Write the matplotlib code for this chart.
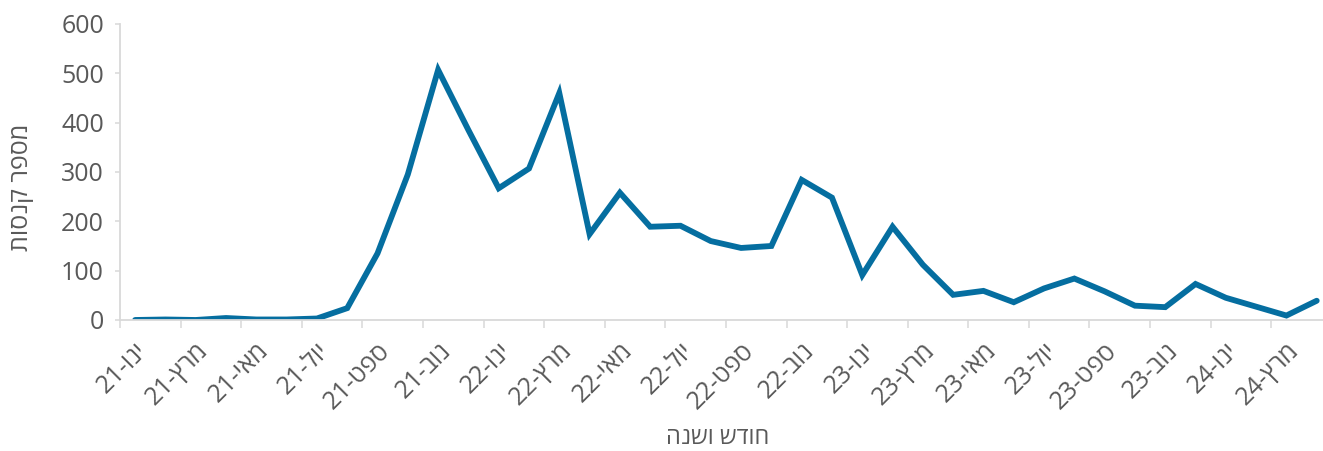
import matplotlib.pyplot as plt
import numpy as np

# חודשים בעברית (סדר לוגי) ושנים
months = ["ינו", "פבר", "מרץ", "אפר", "מאי", "יונ", "יול", "אוג", "ספט", "אוק", "נוב", "דצמ"]
years = ["21", "22", "23", "24"]

# מספר קנסות לחודש, ינואר 2021 עד אפריל 2024
fines = [0, 1, 0, 4, 1, 1, 3, 24, 135, 295,
         507, 385, 267, 307, 460, 174, 258, 189, 191, 160,
         146, 150, 284, 248, 91, 189, 112, 51, 59, 36,
         64, 84, 58, 29, 26, 73, 45, 27, 9, 39]

y_ticks = [0, 100, 200, 300, 400, 500, 600]
y_title = "מספר קנסות"
x_title = "חודש ושנה"

def visual(s):                                   # matplotlib has no bidi, flip hebrew by hand
    return s[::-1]

labels = []
for i in range(len(fines)):
    m = months[i % 12]
    yy = years[i // 12]
    labels.append(yy + "-" + visual(m))

plt.rcParams['font.family'] = ['Open Sans', 'DejaVu Sans']
grey = '#595959'
axis_col = '#d9d9d9'

fig = plt.figure(figsize=(13.23, 4.51), dpi=100)
ax = fig.add_axes([0.0907, 0.2905, 0.916, 0.6563])

x = np.arange(len(fines))
ax.plot(x, fines, color='#056ea0', linewidth=4.2, solid_joinstyle='miter', solid_capstyle='round')

ax.set_xlim(-0.5, len(fines) - 0.5)
ax.set_ylim(0, 600)
ax.set_yticks(y_ticks)
ax.tick_params(axis='y', length=3.6, width=1.1, color=axis_col, labelcolor=grey, labelsize=18, pad=8)

# ticks between categories, labels every second category
ax.set_xticks(np.arange(-0.5, len(fines), 2))
ax.set_xticklabels([])
ax.tick_params(axis='x', which='major', length=5.8, width=1.1, color=axis_col)
ax.set_xticks(x[::2], minor=True)
ax.set_xticklabels(labels[::2], minor=True, rotation=45, ha='right', va='top',
                   rotation_mode='anchor', color=grey, fontsize=18)
ax.tick_params(axis='x', which='minor', length=0, pad=13)

for s in ['top', 'right']:
    ax.spines[s].set_visible(False)
for s in ['left', 'bottom']:
    ax.spines[s].set_color(axis_col)
    ax.spines[s].set_linewidth(1.3)

fig.text(0.0166, (451 - 187) / 451, visual(y_title), rotation=90, ha='center', va='center',
         color=grey, fontsize=18)
fig.text(718 / 1323, (451 - 438) / 451, visual(x_title), ha='center', va='center',
         color=grey, fontsize=17)

fig.savefig('out.png', dpi=100)
